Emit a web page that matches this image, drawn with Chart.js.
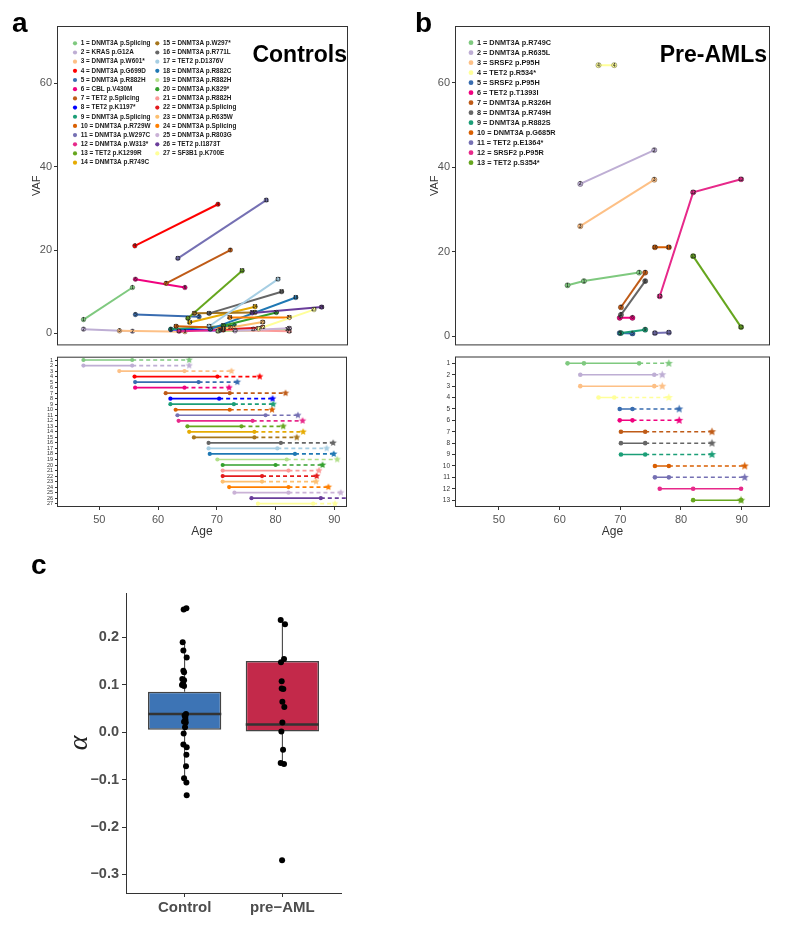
<!DOCTYPE html>
<html>
<head>
<meta charset="utf-8">
<script src="https://cdn.jsdelivr.net/npm/chart.js@4.4.1/dist/chart.umd.min.js"></script>
<style>
body{margin:0;background:#fff;width:800px;height:926px;position:relative;overflow:hidden;font-family:"Liberation Sans",Arial,sans-serif}
canvas{position:absolute}
.tag{position:absolute;font:bold 28px/28px "Liberation Sans",Arial,sans-serif;color:#000}
</style>
</head>
<body>
<canvas id="aTop" width="360" height="350" style="left:0;top:0"></canvas>
<canvas id="aLow" width="360" height="200" style="left:0;top:350px"></canvas>
<canvas id="bTop" width="380" height="350" style="left:400px;top:0"></canvas>
<canvas id="bLow" width="380" height="200" style="left:400px;top:350px"></canvas>
<canvas id="cBox" width="360" height="386" style="left:0;top:540px"></canvas>
<div class="tag" style="left:12px;top:9px">a</div>
<div class="tag" style="left:415px;top:9px">b</div>
<div class="tag" style="left:31px;top:551px">c</div>
<script>
// panel a : controls
const ctrlGenes = ['DNMT3A p.Splicing','KRAS p.G12A','DNMT3A p.W601*','DNMT3A p.G699D','DNMT3A p.R882H','CBL p.V430M','TET2 p.Splicing','TET2 p.K1197*','DNMT3A p.Splicing','DNMT3A p.R729W','DNMT3A p.W297C','DNMT3A p.W313*','TET2 p.K1299R','DNMT3A p.R749C','DNMT3A p.W297*','DNMT3A p.R771L','TET2 p.D1376V','DNMT3A p.R882C','DNMT3A p.R882H','DNMT3A p.K829*','DNMT3A p.R882H','DNMT3A p.Splicing','DNMT3A p.R635W','DNMT3A p.Splicing','DNMT3A p.R803G','TET2 p.I1873T','SF3B1 p.K700E'];
const ctrlAges = [[47.3,55.6],[47.3,55.6],[53.4,64.5],[56.0,70.1],[56.1,66.9],[56.1,64.5],[61.3,72.2],[62.1,70.4],[62.1,72.9],[63.0,72.2],[63.3,78.3],[63.5,76.1],[65.0,74.2],[65.3,76.4],[66.1,76.4],[68.6,80.9],[68.6,80.3],[68.8,83.3],[70.1,81.9],[71.0,80.0],[71.0,82.2],[71.0,77.7],[71.0,77.7],[72.1,82.2],[73.0,82.2],[75.9,87.7],[77.0,86.4]];
const ctrlVaf = [[3.3,11.0],[1.0,0.5],[0.6,0.4],[21.0,31.0],[4.5,4.0],[13.0,11.0],[12.0,20.0],[0.9,0.7],[1.0,1.9],[1.7,1.3],[18.0,32.0],[0.5,1.0],[3.6,15.0],[2.6,6.4],[4.8,5.0],[4.8,10.0],[1.7,13.0],[1.0,8.6],[0.5,0.9],[1.8,5.0],[0.8,0.5],[0.9,1.4],[1.1,2.7],[3.8,3.8],[0.6,1.2],[4.9,6.3],[1.1,5.7]];
const ctrlStar = [65.3,65.3,72.5,77.3,73.5,72.1,81.7,79.5,79.6,79.4,83.8,84.6,81.3,84.7,83.6,89.8,88.7,89.9,90.5,88.0,87.4,87.0,86.9,89.0,91.1,92.8,90.1];

// panel b : pre-AMLs
const preGenes = ['DNMT3A p.R749C','DNMT3A p.R635L','SRSF2 p.P95H','TET2 p.R534*','SRSF2 p.P95H','TET2 p.T1393I','DNMT3A p.R326H','DNMT3A p.R749H','DNMT3A p.R882S','DNMT3A p.G685R','TET2 p.E1364*','SRSF2 p.P95R','TET2 p.S354*'];
const preAges = [[61.3,64.0,73.1],[63.4,75.6],[63.4,75.6],[66.4,69.0],[69.9,72.0],[69.9,72.0],[70.1,74.1],[70.1,74.1],[70.1,74.1],[75.7,78.0],[75.7,78.0],[76.5,82.0,89.9],[82.0,89.9]];
const preVaf = [[12.1,13.1,15.1],[36.1,44.1],[26.1,37.1],[64.2,64.2],[0.8,0.7],[4.4,4.4],[6.9,15.1],[5.1,13.1],[0.8,1.6],[21.1,21.1],[0.8,0.9],[9.5,34.1,37.2],[19.0,2.2]];
const preStar = [78.0,76.9,76.9,78.0,79.7,79.7,85.1,85.1,85.1,90.5,90.5,null,89.9];

const vafTicks = [0,20,40,60];
const ageTicks = [50,60,70,80,90];

// panel c : alpha
const cCats = ['Control','pre\u2212AML'];
const cQ1 = [0.005, 0.0];
const cMed = [0.038, 0.016];
const cQ3 = [0.085, 0.150];
const cLow = [-0.107, -0.068];
const cHigh = [0.190, 0.236];
const cCtrlX = [0.990,1.018,0.980,0.987,1.021,0.987,0.994,0.976,0.994,0.983,0.973,0.994,1.014,1.000,1.007,1.008,0.994,1.011,1.004,0.990,0.987,1.021,1.018,1.014,0.994,1.018,1.021];
const cCtrlY = [0.258,0.261,0.189,0.172,0.157,0.129,0.126,0.112,0.109,0.102,0.099,0.097,0.038,0.035,0.032,0.026,0.022,0.020,0.010,-0.003,-0.026,-0.032,-0.048,-0.072,-0.097,-0.106,-0.133];
const cPreX = [1.983,2.027,2.017,1.986,1.993,1.993,2.010,2.000,2.020,2.000,1.990,2.007,1.983,2.017,1.997];
const cPreY = [0.236,0.227,0.154,0.147,0.107,0.092,0.091,0.064,0.053,0.020,0.001,-0.037,-0.065,-0.067,-0.270];
const cTicks = [-0.3,-0.2,-0.1,0,0.1,0.2];

const ctrlColors = ['#7fc97f','#beaed4','#fdc086','#ff0000','#386cb0','#f0027f','#bf5b17','#0000ff','#1b9e77','#d95f02','#7570b3','#e7298a','#66a61e','#e6ab02','#a6761d','#666666','#a6cee3','#1f78b4','#b2df8a','#33a02c','#fb9a99','#e31a1c','#fdbf6f','#ff7f00','#cab2d6','#6a3d9a','#ffff99'];
const preColors = ['#7fc97f','#beaed4','#fdc086','#ffff99','#386cb0','#f0027f','#bf5b17','#666666','#1b9e77','#d95f02','#7570b3','#e7298a','#66a61e'];
const boxColors = ['#3d74b5','#c3294a'];

const FONT = '"Liberation Sans", Arial, sans-serif';
Chart.defaults.font.family = FONT;
Chart.defaults.animation = false;
Chart.defaults.plugins.legend.display = false;
Chart.defaults.plugins.tooltip.enabled = false;

function fixed(w, h) {
  return s => {
    if (w != null) s.width = w;
    if (h != null) s.height = h;
    s.paddingLeft = s.paddingRight = s.paddingTop = s.paddingBottom = 0;
  };
}
function setTicks(vals) {
  return s => { s.ticks = vals.map(v => ({value: v})); };
}

function makeStar(color, R) {
  const c = document.createElement('canvas');
  c.width = c.height = Math.ceil(R * 2 + 2);
  const g = c.getContext('2d');
  const cx = c.width / 2, cy = c.height / 2;
  g.beginPath();
  for (let k = 0; k < 10; k++) {
    const rr = k % 2 ? R * 0.45 : R;
    const a = -Math.PI / 2 + k * Math.PI / 5;
    g.lineTo(cx + rr * Math.cos(a), cy + rr * Math.sin(a));
  }
  g.closePath();
  g.fillStyle = color;
  g.fill();
  return c;
}

const framePlugin = {
  id: 'frame',
  afterDraw(chart) {
    const {ctx, chartArea: a} = chart;
    ctx.save();
    ctx.strokeStyle = '#333';
    ctx.lineWidth = 1;
    ctx.strokeRect(a.left + 0.5, a.top + 0.5, a.right - a.left - 1, a.bottom - a.top - 1);
    ctx.restore();
  }
};

// small mutation number on every point
const idPlugin = {
  id: 'ids',
  afterDatasetsDraw(chart) {
    const ctx = chart.ctx;
    ctx.save();
    ctx.font = 'bold 4.5px ' + FONT;
    ctx.textAlign = 'center';
    ctx.textBaseline = 'middle';
    ctx.fillStyle = '#222';
    chart.data.datasets.forEach((ds, i) => {
      chart.getDatasetMeta(i).data.forEach(pt => ctx.fillText(ds.label, pt.x, pt.y + 0.3));
    });
    ctx.restore();
  }
};

function legendPlugin(genes, colors, cfg) {
  return {
    id: 'geneLegend',
    afterDraw(chart) {
      const {ctx, chartArea: ca} = chart;
      ctx.save();
      ctx.font = 'bold ' + cfg.size + 'px ' + FONT;
      ctx.textBaseline = 'middle';
      genes.forEach((g, i) => {
        const col = Math.floor(i / cfg.perCol);
        const row = i % cfg.perCol;
        const x = ca.left + cfg.x + col * cfg.colW;
        const y = ca.top + cfg.y + row * cfg.rowH;
        ctx.fillStyle = colors[i];
        ctx.beginPath();
        ctx.arc(x, y, cfg.dot, 0, Math.PI * 2);
        ctx.fill();
        ctx.fillStyle = '#1a1a1a';
        ctx.fillText((i + 1) + ' = ' + g, x + cfg.gap, y);
      });
      ctx.font = 'bold ' + cfg.titleSize + 'px ' + FONT;
      ctx.textAlign = 'right';
      ctx.textBaseline = 'alphabetic';
      ctx.fillStyle = '#000';
      ctx.fillText(cfg.title, ca.right - cfg.titleRight, ca.top + cfg.titleY);
      ctx.restore();
    }
  };
}

function vafSets(ages, vafs, colors, r) {
  return ages.map((a, i) => ({
    label: String(i + 1),
    data: a.map((x, k) => ({x: x, y: vafs[i][k]})),
    borderColor: colors[i],
    backgroundColor: colors[i],
    borderWidth: 2,
    pointRadius: r,
    pointBorderColor: 'rgba(0,0,0,0.5)',
    pointBorderWidth: 0.6,
    order: ages.length - i
  }));
}

function timelineSets(ages, stars, colors, r, R, lw) {
  const sets = [];
  ages.forEach((a, i) => {
    const row = i + 1;
    if (stars[i] != null) {
      const last = a[a.length - 1];
      sets.push({
        data: [{x: last, y: row}, {x: stars[i], y: row}],
        borderColor: colors[i],
        borderWidth: lw,
        borderDash: [4, 3],
        pointRadius: [0, 5],
        pointStyle: ['circle', makeStar(colors[i], R)],
        order: 2
      });
    }
    sets.push({
      data: a.map(x => ({x: x, y: row})),
      borderColor: colors[i],
      backgroundColor: colors[i],
      borderWidth: lw,
      pointRadius: r,
      pointBorderWidth: 0,
      order: 1
    });
  });
  return sets;
}

function vafChart(id, sets, xmin, xmax, ymin, ymax, pad, yw, legend) {
  return new Chart(document.getElementById(id), {
    type: 'line',
    data: {datasets: sets},
    options: {
      responsive: false, events: [],
      layout: {padding: pad},
      scales: {
        x: {type: 'linear', display: false, min: xmin, max: xmax},
        y: {type: 'linear', min: ymin, max: ymax,
            afterBuildTicks: setTicks(vafTicks), afterFit: fixed(yw, null),
            grid: {drawOnChartArea: false, tickLength: 3, color: '#333'},
            border: {display: false},
            ticks: {color: '#555', font: {size: 11}, padding: 2},
            title: {display: true, text: 'VAF', color: '#333', font: {size: 11}, padding: {top: yw - 27, bottom: 0}}}
      }
    },
    plugins: [framePlugin, idPlugin, legend]
  });
}

function timeChart(id, sets, xmin, xmax, nrows, pad, yw, rowFont, tl) {
  const rows = Array.from({length: nrows}, (_, i) => i + 1);
  return new Chart(document.getElementById(id), {
    type: 'line',
    data: {datasets: sets},
    options: {
      responsive: false, events: [],
      layout: {padding: pad},
      scales: {
        x: {type: 'linear', min: xmin, max: xmax,
            afterBuildTicks: setTicks(ageTicks), afterFit: fixed(null, 43),
            grid: {drawOnChartArea: false, tickLength: 3, color: '#333'},
            border: {display: false},
            ticks: {color: '#555', font: {size: 11}, padding: 3},
            title: {display: true, text: 'Age', color: '#333', font: {size: 12}, padding: {top: 0, bottom: 11}}},
        y: {type: 'linear', reverse: true, min: 0.4, max: nrows + 0.6,
            afterBuildTicks: setTicks(rows), afterFit: fixed(yw, null),
            grid: {drawOnChartArea: false, tickLength: tl, color: '#333'},
            border: {display: false},
            ticks: {color: '#333', font: {size: rowFont}, padding: 2, autoSkip: false}}
      }
    },
    plugins: [framePlugin]
  });
}

vafChart('aTop', vafSets(ctrlAges, ctrlVaf, ctrlColors, 2.3), 42.8, 92.16, -2.9, 73.8,
  {left: 0, top: 26, right: 12, bottom: 4}, 57,
  legendPlugin(ctrlGenes, ctrlColors, {x: 18, y: 17.3, perCol: 14, colW: 82.3, rowH: 9.18, dot: 2.1, gap: 5.7, size: 6.4,
    title: 'Controls', titleSize: 23, titleRight: 1, titleY: 36}));

timeChart('aLow', timelineSets(ctrlAges, ctrlStar, ctrlColors, 2.1, 3.8, 1.7), 42.8, 92.16, ctrlGenes.length,
  {left: 0, top: 4, right: 13, bottom: 0}, 57, 5.5, 2);

vafChart('bTop', vafSets(preAges, preVaf, preColors, 2.6), 42.75, 94.67, -2.13, 73.47,
  {left: 0, top: 26, right: 10, bottom: 4}, 55,
  legendPlugin(preGenes, preColors, {x: 16, y: 16.7, perCol: 13, colW: 0, rowH: 10, dot: 2.4, gap: 6, size: 7.3,
    title: 'Pre-AMLs', titleSize: 23, titleRight: 3, titleY: 36}));

timeChart('bLow', timelineSets(preAges, preStar, preColors, 2.3, 4.3, 1.5), 42.75, 94.67, preGenes.length,
  {left: 0, top: 3, right: 10, bottom: 0}, 55, 6.5, 3);

// panel c box plot built from floating bars, lines and scatter points
const cSets = [];
cCats.forEach((c, i) => {
  const x = i + 1;
  cSets.push({type: 'line', data: [{x: x, y: cQ3[i]}, {x: x, y: cHigh[i]}], borderColor: '#333', borderWidth: 1, pointRadius: 0, order: 4});
  cSets.push({type: 'line', data: [{x: x, y: cLow[i]}, {x: x, y: cQ1[i]}], borderColor: '#333', borderWidth: 1, pointRadius: 0, order: 4});
  cSets.push({type: 'line', data: [{x: x - 0.375, y: cMed[i]}, {x: x + 0.375, y: cMed[i]}], borderColor: '#333', borderWidth: 2.5, pointRadius: 0, order: 2});
});
cSets.push({type: 'bar', data: cCats.map((c, i) => ({x: i + 1, y: [cQ1[i], cQ3[i]]})),
  backgroundColor: boxColors, borderColor: '#444', borderWidth: 1.5, borderSkipped: false,
  categoryPercentage: 1, barPercentage: 0.75, order: 3});
cSets.push({type: 'scatter', data: cCtrlX.map((x, i) => ({x: x, y: cCtrlY[i]})), backgroundColor: '#000', borderWidth: 0, pointRadius: 3, order: 0});
cSets.push({type: 'scatter', data: cPreX.map((x, i) => ({x: x, y: cPreY[i]})), backgroundColor: '#000', borderWidth: 0, pointRadius: 3, order: 0});

new Chart(document.getElementById('cBox'), {
  type: 'bar',
  data: {datasets: cSets},
  options: {
    responsive: false, events: [],
    layout: {padding: {left: 0, top: 53, right: 19, bottom: 0}},
    scales: {
      x: {type: 'linear', min: 0.4, max: 2.6, offset: false,
          afterBuildTicks: setTicks([1, 2]), afterFit: fixed(null, 33),
          grid: {drawOnChartArea: false, tickLength: 4, color: '#333', offset: false},
          border: {color: '#333', width: 1},
          ticks: {color: '#4d4d4d', font: {size: 15, weight: 'bold'}, padding: 2,
                  callback: v => cCats[Math.round(v) - 1]}},
      y: {type: 'linear', min: -0.339, max: 0.293,
          afterBuildTicks: setTicks(cTicks), afterFit: fixed(126, null),
          grid: {drawOnChartArea: false, tickLength: 4, color: '#333'},
          border: {color: '#333', width: 1},
          ticks: {color: '#4d4d4d', font: {size: 14.5, weight: 'bold'}, padding: 3,
                  callback: v => (v < -1e-9 ? '\u2212' : '') + Math.abs(v).toFixed(1)},
          title: {display: true, text: '\u03b1', color: '#222',
                  font: {family: '"Liberation Serif", "DejaVu Serif", serif', size: 28, style: 'italic'},
                  padding: {top: 63, bottom: 0}}}
    }
  }
});
</script>
</body>
</html>
